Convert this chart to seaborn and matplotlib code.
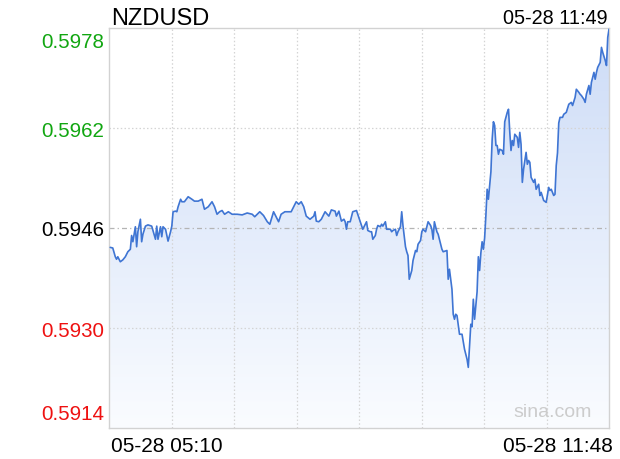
import numpy as np
import pandas as pd
import matplotlib
matplotlib.use("Agg")
import matplotlib.pyplot as plt
from matplotlib.colors import LinearSegmentedColormap
import seaborn as sns

# ---------------- data ----------------
symbol = "NZDUSD"
stamp_text = "05-28 11:49"
start_label = "05-28 05:10"
end_label = "05-28 11:48"
session_minutes = 398          # 05:10 -> 11:48
prev_close = 0.5946
y_ticks = [0.5914, 0.5930, 0.5946, 0.5962, 0.5978]
y_tick_labels = ["0.5914", "0.5930", "0.5946", "0.5962", "0.5978"]

minutes = [1, 3, 5, 6, 7, 9, 11, 13, 15, 17, 18, 19, 21, 22, 23, 25, 26, 27, 29, 31,
           34, 37, 38, 39, 41, 42, 43, 45, 47, 49, 50, 51, 53, 54, 55, 57, 58, 60, 63, 66,
           68, 71, 74, 76, 79, 82, 84, 86, 88, 90, 92, 95, 98, 102, 106, 110, 114, 116, 120, 123,
           126, 128, 131, 133, 135, 137, 140, 143, 145, 148, 149, 151, 153, 155, 157, 160, 163, 164, 165, 167,
           169, 172, 175, 177, 180, 181, 183, 185, 187, 188, 189, 190, 192, 193, 194, 197, 198, 200, 201, 202,
           204, 205, 206, 208, 209, 210, 212, 213, 214, 216, 217, 218, 220, 221, 224, 225, 226, 228, 229, 230,
           232, 233, 234, 236, 237, 238, 239, 241, 242, 244, 245, 246, 248, 249, 250, 252, 253, 254, 256, 257,
           258, 259, 261, 262, 263, 265, 266, 269, 270, 271, 273, 274, 275, 276, 277, 279, 281, 283, 285, 286,
           287, 288, 289, 290, 291, 293, 294, 295, 296, 297, 298, 299, 300, 301, 302, 303, 304, 305, 306, 307,
           308, 309, 310, 311, 313, 314, 315, 317, 318, 319, 320, 321, 322, 323, 325, 326, 327, 328, 329, 330,
           332, 333, 334, 335, 336, 338, 339, 340, 342, 343, 344, 346, 348, 350, 351, 352, 354, 355, 356, 357,
           358, 359, 361, 362, 364, 366, 368, 369, 371, 372, 374, 375, 376, 378, 379, 380, 382, 383, 384, 386,
           387, 388, 389, 391, 392, 393, 395, 396, 397, 398]

prices = [0.59429, 0.59428, 0.59414, 0.59410, 0.59414, 0.59406, 0.59409, 0.59414, 0.59422, 0.59426,
          0.59448, 0.59438, 0.59462, 0.59430, 0.59454, 0.59474, 0.59438, 0.59450, 0.59463, 0.59465,
          0.59463, 0.59442, 0.59463, 0.59442, 0.59462, 0.59446, 0.59462, 0.59458, 0.59439, 0.59454,
          0.59463, 0.59486, 0.59487, 0.59486, 0.59494, 0.59506, 0.59502, 0.59502, 0.59510, 0.59506,
          0.59503, 0.59503, 0.59506, 0.59490, 0.59494, 0.59502, 0.59494, 0.59482, 0.59486, 0.59488,
          0.59482, 0.59486, 0.59482, 0.59482, 0.59481, 0.59484, 0.59482, 0.59478, 0.59486, 0.59480,
          0.59470, 0.59466, 0.59486, 0.59478, 0.59470, 0.59482, 0.59486, 0.59486, 0.59486, 0.59498,
          0.59502, 0.59498, 0.59502, 0.59494, 0.59479, 0.59474, 0.59479, 0.59486, 0.59471, 0.59470,
          0.59474, 0.59486, 0.59479, 0.59489, 0.59487, 0.59479, 0.59487, 0.59471, 0.59474, 0.59470,
          0.59458, 0.59470, 0.59470, 0.59478, 0.59486, 0.59488, 0.59482, 0.59470, 0.59464, 0.59458,
          0.59466, 0.59470, 0.59456, 0.59454, 0.59454, 0.59442, 0.59448, 0.59458, 0.59464, 0.59462,
          0.59466, 0.59463, 0.59470, 0.59458, 0.59458, 0.59454, 0.59456, 0.59458, 0.59448, 0.59454,
          0.59462, 0.59486, 0.59464, 0.59430, 0.59422, 0.59416, 0.59378, 0.59392, 0.59408, 0.59424,
          0.59422, 0.59434, 0.59440, 0.59454, 0.59458, 0.59454, 0.59462, 0.59470, 0.59464, 0.59458,
          0.59442, 0.59470, 0.59454, 0.59450, 0.59442, 0.59426, 0.59422, 0.59424, 0.59378, 0.59394,
          0.59362, 0.59322, 0.59314, 0.59322, 0.59320, 0.59290, 0.59290, 0.59266, 0.59250, 0.59237,
          0.59272, 0.59306, 0.59302, 0.59346, 0.59314, 0.59358, 0.59414, 0.59392, 0.59420, 0.59438,
          0.59426, 0.59444, 0.59480, 0.59522, 0.59506, 0.59528, 0.59550, 0.59602, 0.59630, 0.59624,
          0.59592, 0.59592, 0.59578, 0.59586, 0.59584, 0.59578, 0.59630, 0.59645, 0.59650, 0.59614,
          0.59584, 0.59600, 0.59592, 0.59610, 0.59605, 0.59589, 0.59613, 0.59594, 0.59533, 0.59554,
          0.59581, 0.59562, 0.59568, 0.59565, 0.59541, 0.59533, 0.59538, 0.59522, 0.59530, 0.59512,
          0.59517, 0.59504, 0.59501, 0.59525, 0.59520, 0.59522, 0.59512, 0.59514, 0.59560, 0.59580,
          0.59628, 0.59637, 0.59637, 0.59642, 0.59645, 0.59658, 0.59661, 0.59656, 0.59669, 0.59682,
          0.59677, 0.59674, 0.59672, 0.59666, 0.59661, 0.59674, 0.59688, 0.59674, 0.59693, 0.59709,
          0.59698, 0.59709, 0.59717, 0.59725, 0.59749, 0.59741, 0.59728, 0.59720, 0.59765, 0.59778]

df = pd.DataFrame({"minute": minutes, "price": prices})

# ---------------- style ----------------
sns.set_theme(style="white")
plt.rcParams["font.family"] = ["Liberation Sans", "DejaVu Sans"]

W, H = 620, 460
fig = plt.figure(figsize=(W / 100, H / 100), dpi=100)
ax = fig.add_axes([109 / W, (H - 429) / H, 500 / W, 400 / H])

ymin, ymax = y_ticks[0], y_ticks[-1]
xmin, xmax = 0, session_minutes

# gradient fill under the line
poly = ax.fill_between(df["minute"], df["price"], ymin, facecolor="none", edgecolor="none")
grad = np.linspace(1, 0, 256).reshape(-1, 1)
cmap = LinearSegmentedColormap.from_list("g", ["#fafcff", "#cddcf7"])
im = ax.imshow(grad, extent=[xmin, xmax, ymin, ymax], aspect="auto", cmap=cmap,
               origin="upper", zorder=1, interpolation="bilinear")
im.set_clip_path(poly.get_paths()[0], transform=ax.transData)

sns.lineplot(data=df, x="minute", y="price", ax=ax, color="#3f75d3",
             linewidth=1.2, estimator=None, zorder=3)

ax.set_xlim(xmin, xmax)
ax.set_ylim(ymin, ymax)

# grid
for xv in np.linspace(xmin, xmax, 9)[1:-1]:
    ax.axvline(xv, color="#d4d4d4", linewidth=0.9, linestyle=(0, (1.2, 1.8)), zorder=2)
for yv in (y_ticks[1], y_ticks[3]):
    ax.axhline(yv, color="#d4d4d4", linewidth=0.9, linestyle=(0, (1.2, 1.8)), zorder=2)
ax.axhline(prev_close, color="#b4b4b4", linewidth=0.9, linestyle=(0, (4, 2.5, 1, 2.5)), zorder=2)

ax.set_xticks([])
ax.set_yticks([])
ax.set_xlabel("")
ax.set_ylabel("")
for s in ax.spines.values():
    s.set_color("#d2d2d2")
    s.set_linewidth(1.0)

# y labels (colored relative to previous close)
ytr = ax.get_yaxis_transform()
for v, lab in zip(y_ticks, y_tick_labels):
    if v > prev_close + 1e-9:
        c = "#11a611"
    elif v < prev_close - 1e-9:
        c = "#ee1111"
    else:
        c = "#000000"
    if v == ymax:
        va, dy = "top", -4
    elif v == ymin:
        va, dy = "bottom", 5
    else:
        va, dy = "center_baseline", 0
    ax.annotate(lab, xy=(0, v), xycoords=ytr, xytext=(-5, dy), textcoords="offset pixels",
                ha="right", va=va, color=c, fontsize=14.8)

# x labels
xtr = ax.get_xaxis_transform()
ax.annotate(start_label, xy=(xmin, 0), xycoords=xtr, xytext=(2, -8), textcoords="offset pixels",
            ha="left", va="top", fontsize=15, color="#000000")
ax.annotate(end_label, xy=(xmax, 0), xycoords=xtr, xytext=(4, -8), textcoords="offset pixels",
            ha="right", va="top", fontsize=15, color="#000000")

# header texts
fig.text(111 / W, 1 - 25 / H, symbol, ha="left", va="baseline", fontsize=17, color="#000000")
fig.text(608 / W, 1 - 24 / H, stamp_text, ha="right", va="baseline", fontsize=14.3, color="#000000")

# watermark
ax.text(0.965, 0.02, "sina.com", transform=ax.transAxes, ha="right", va="bottom",
        fontsize=14, color="#cccccc", zorder=4)

fig.savefig("out.png", dpi=100)
